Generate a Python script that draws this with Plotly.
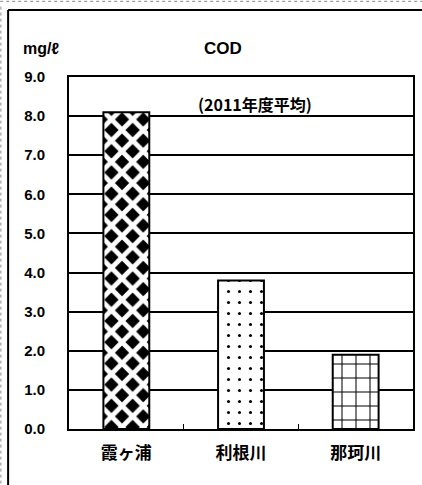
import plotly.graph_objects as go

categories = ["霞ヶ浦", "利根川", "那珂川"]
values = [8.1, 3.8, 1.9]
y_ticks = [0, 1, 2, 3, 4, 5, 6, 7, 8, 9]
y_tick_labels = ["0.0", "1.0", "2.0", "3.0", "4.0", "5.0", "6.0", "7.0", "8.0", "9.0"]
title_text = "COD"
unit_text = "mg/ℓ"
subtitle_text = "(2011年度平均)"

LAT = "Liberation Sans, Arial, sans-serif"
CJK = "Noto Sans CJK JP, sans-serif"

patterns = [
    dict(shape="x", size=15, solidity=0.55, fillmode="replace", bgcolor="black", fgcolor="white"),
    dict(shape=".", size=11, solidity=0.06, fillmode="replace", bgcolor="white", fgcolor="black"),
    dict(shape="+", size=14, solidity=0.14, fillmode="replace", bgcolor="white", fgcolor="black"),
]

fig = go.Figure()
for cat, val, pat in zip(categories, values, patterns):
    fig.add_trace(go.Bar(
        x=[cat], y=[val], width=0.4,
        marker=dict(color="white", line=dict(color="black", width=2), pattern=pat),
        showlegend=False, hoverinfo="skip",
    ))

fig.update_layout(
    width=422, height=485,
    margin=dict(l=69, r=9, t=77, b=56, autoexpand=False),
    paper_bgcolor="white", plot_bgcolor="white",
    barmode="overlay",
    xaxis=dict(
        type="category", categoryarray=categories,
        automargin=False,
        showline=True, linecolor="black", linewidth=2, mirror=True,
        ticks="inside", ticklen=5, tickcolor="black", tickwidth=1,
        tickson="boundaries",
        showgrid=False,
        tickfont=dict(family=CJK, size=17, color="black", weight="bold"),
        ticklabelstandoff=8,
    ),
    yaxis=dict(
        range=[0, 9], tickvals=y_ticks, ticktext=y_tick_labels,
        automargin=False,
        showline=True, linecolor="black", linewidth=2, mirror=True,
        showgrid=True, gridcolor="black", gridwidth=2,
        zeroline=False,
        ticks="",
        tickfont=dict(family=LAT, size=15, color="black", weight="bold"),
        ticklabelstandoff=19,
    ),
    annotations=[
        dict(text="<b>" + title_text + "</b>", x=0.448, y=1.082, xref="paper", yref="paper",
             xanchor="center", yanchor="middle",
             showarrow=False, font=dict(family=LAT, size=17, color="black")),
        dict(text="<b>" + unit_text + "</b>", x=-0.081, y=1.082, xref="paper", yref="paper",
             xanchor="center", yanchor="middle",
             showarrow=False, font=dict(family=LAT, size=16, color="black")),
        dict(text="<b>" + subtitle_text + "</b>", x=0.541, y=0.923, xref="paper", yref="paper",
             xanchor="center", yanchor="middle",
             showarrow=False, font=dict(family=CJK, size=16, color="black")),
    ],
    shapes=[
        dict(type="line", xref="paper", yref="paper", x0=-0.177, x1=1.1, y0=1.190, y1=1.190,
             line=dict(color="black", width=2)),
        dict(type="line", xref="paper", yref="paper", x0=-0.177, x1=-0.177, y0=1.190, y1=-0.3,
             line=dict(color="black", width=2)),
        dict(type="line", xref="paper", yref="paper", x0=-0.2, x1=1.1, y0=1.215, y1=1.215,
             line=dict(color="#888", width=1, dash="dot")),
        dict(type="line", xref="paper", yref="paper", x0=-0.198, x1=-0.198, y0=1.2, y1=-0.3,
             line=dict(color="#888", width=1, dash="dot")),
    ],
)

fig.write_html(
    "out.html",
    config={"displayModeBar": False},
    post_script="document.body.style.margin='0';document.body.style.overflow='hidden';",
)
